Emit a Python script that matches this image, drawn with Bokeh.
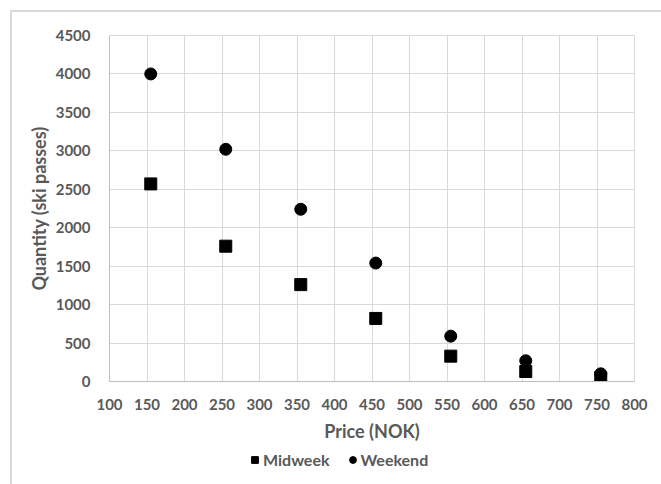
from bokeh.plotting import figure
from bokeh.layouts import column
from bokeh.models import Legend, LegendItem, SingleIntervalTicker, Range1d
from bokeh.embed import file_html
from bokeh.resources import INLINE

price = [155, 255, 355, 455, 555, 655, 755]
midweek = [2570, 1760, 1260, 820, 330, 130, 50]
weekend = [4000, 3020, 2240, 1540, 590, 270, 100]

GRID = "#d9d9d9"
TXT = "#595959"
FONT = "Lato"

p = figure(width=661, height=444, output_backend="svg", toolbar_location=None,
           x_range=Range1d(100, 800), y_range=Range1d(0, 4500),
           min_border_left=109, min_border_right=27, min_border_top=35, min_border_bottom=63)

p.border_fill_color = None
p.background_fill_color = "white"

p.outline_line_color = GRID
p.xgrid.grid_line_color = GRID
p.ygrid.grid_line_color = GRID
p.xaxis.ticker = SingleIntervalTicker(interval=50)
p.yaxis.ticker = SingleIntervalTicker(interval=500)
for ax in (p.xaxis[0], p.yaxis[0]):
    ax.axis_line_color = "#bfbfbf"
    ax.major_tick_line_color = None
    ax.minor_tick_line_color = None
    ax.major_label_text_font = FONT
    ax.major_label_text_font_style = "bold"
    ax.major_label_text_font_size = "15px"
    ax.major_label_text_color = TXT
    ax.axis_label_text_font = FONT
    ax.axis_label_text_font_style = "bold"
    ax.axis_label_text_font_size = "18px"
    ax.axis_label_text_color = TXT
p.xaxis.axis_label = "Price (NOK)"
p.yaxis.axis_label = "Quantity (ski passes)"
p.xaxis.major_label_standoff = 11
p.yaxis.major_label_standoff = 13
p.xaxis.axis_label_standoff = 7
p.yaxis.axis_label_standoff = 3

p.scatter(price, midweek, marker="square", size=12, color="black")
p.scatter(price, weekend, marker="circle", size=12, color="black")

# legend strip below the chart; its renderers lie outside its visible range
lg = figure(width=661, height=40, output_backend="svg", toolbar_location=None,
            x_range=Range1d(0, 1), y_range=Range1d(0, 1),
            min_border=0, x_axis_type=None, y_axis_type=None)
lg.border_fill_color = None
lg.background_fill_color = None
lg.outline_line_color = None
lg.xgrid.visible = False
lg.ygrid.visible = False
r1 = lg.scatter(price, midweek, marker="square", size=12, color="black")
r2 = lg.scatter(price, weekend, marker="circle", size=12, color="black")

legend = Legend(items=[LegendItem(label="Midweek", renderers=[r1]),
                       LegendItem(label="Weekend", renderers=[r2])],
                orientation="horizontal", location=(137, 15),
                label_text_font=FONT, label_text_font_style="bold",
                label_text_font_size="16px", label_text_color=TXT,
                glyph_width=17, glyph_height=17, spacing=14, padding=0, margin=0,
                label_standoff=0, border_line_color=None, background_fill_alpha=0)
lg.add_layout(legend, "center")

layout = column(p, lg, spacing=0)
layout.styles = {"background": "linear-gradient(#d9d9d9,#d9d9d9) 10px 10px / 100% 2px no-repeat, "
                               "linear-gradient(#d9d9d9,#d9d9d9) 10px 10px / 2px 100% no-repeat, white"}

open("out.html", "w").write(file_html(layout, INLINE))
